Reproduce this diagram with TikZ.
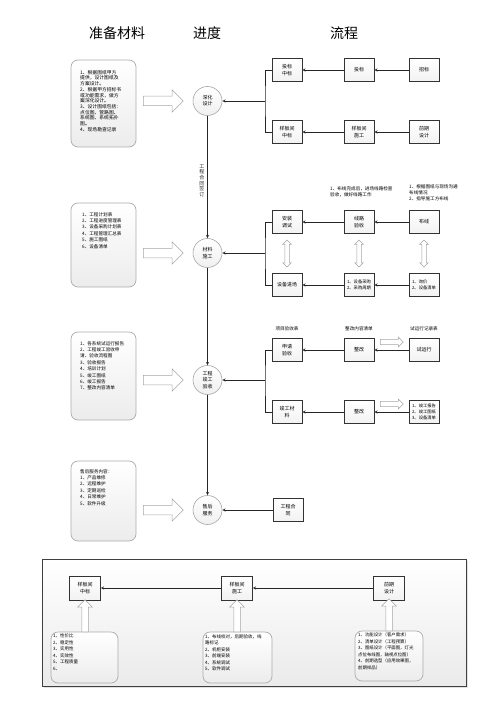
\documentclass[tikz,border=0pt]{standalone}
\usepackage{fontspec}
\setmainfont{Noto Sans CJK SC}
\usetikzlibrary{shapes.arrows,shadows}
\newcommand{\fsz}[2]{\fontsize{#1pt}{#2pt}\selectfont}

\begin{document}
\begin{tikzpicture}[x=1pt, y=-1pt,
    arr/.style={-stealth, black!85, line width=0.5pt},
    ln/.style={black!85, line width=0.5pt},
    head/.style={inner sep=0pt, font=\fsz{14}{16}},
    stage/.style={circle, draw=gray!70, line width=0.6pt, top color=white, bottom color=gray!12,
      minimum size=29pt, inner sep=0pt, align=center, font=\fsz{5}{6.2}},
    task/.style={rectangle, draw=black!80, line width=0.6pt, top color=white, bottom color=gray!10,
      minimum width=30pt, minimum height=23pt, inner sep=1pt, align=center, font=\fsz{5}{6.4},
      drop shadow={shadow xshift=0.7pt, shadow yshift=-0.7pt, fill=gray!45}},
    tasklist/.style={task, align=left, font=\fsz{4.3}{6}},
    docbox/.style={rectangle, rounded corners=7pt, draw=gray!65, line width=0.7pt,
      top color=white, bottom color=gray!15},
    doctext/.style={anchor=north west, align=left, inner sep=0pt, font=\fsz{4.6}{6.4}},
    note/.style={align=left, inner sep=0pt, font=\fsz{4.6}{6.4}},
    vlab/.style={align=center, inner sep=0pt, font=\fsz{5}{5.6}},
    hollow/.style={single arrow, draw=gray!70, fill=white, line width=0.5pt, anchor=tail,
      inner sep=4.5pt, single arrow head extend=6.5pt, minimum height=40pt},
    smallhollow/.style={hollow, inner sep=2.3pt, single arrow head extend=2.3pt, minimum height=23pt},
    uphollow/.style={hollow, inner sep=3pt, single arrow head extend=4pt, minimum height=32pt,
      shape border rotate=90},
    updown/.style={double arrow, draw=gray!70, fill=white, line width=0.5pt, inner sep=2pt,
      double arrow head extend=2pt, minimum height=27pt, shape border rotate=90}]
  \useasboundingbox (0,0) rectangle (503,711);

  % headings
  \node[head] (hd1) at (117,33) {准备材料};
  \node[head] (hd2) at (207,33) {进度};
  \node[head] (hd3) at (344,33) {流程};

  % left column
  \node[docbox, minimum width=65pt, minimum height=87pt] (m1) at (103.5,103.5) {};
  \node[doctext, font=\fsz{4.8}{5.7}] (t1) at (80,70) {1、根据图纸甲方\\提供，设计图纸及\\方案设计。\\2、根据甲方招标书\\或功能需求，做方\\案深化设计。\\3、设计图纸包括：\\点位图、管路图、\\系统图、系统拓扑\\图。\\4、现场勘查记录};
  \node[docbox, minimum width=65pt, minimum height=84pt] (m2) at (103.5,245) {};
  \node[doctext] (t2) at (82,212) {1、工程计划表\\2、工程进度管理表\\3、设备采购计划表\\4、工程管理汇总表\\5、施工图纸\\6、设备清单};
  \node[docbox, minimum width=65pt, minimum height=88pt] (m3) at (103.5,376) {};
  \node[doctext] (t3) at (80,341) {1、各系统试运行报告\\2、工程竣工验收申\\请、验收流程图\\3、验收报告\\4、培训计划\\5、竣工图纸\\6、竣工报告\\7、整改内容清单};
  \node[docbox, minimum width=65pt, minimum height=80pt] (m4) at (103.5,501) {};
  \node[doctext] (t4) at (80,469) {售后服务内容：\\1、产品维修\\2、远程维护\\3、定期巡检\\4、日常维护\\5、软件升级};

  \node[hollow] (h1) at (143,101) {};
  \node[hollow] (h2) at (143,253) {};
  \node[hollow] (h3) at (143,380) {};
  \node[hollow] (h4) at (143,510) {};

  % stages
  \node[stage] (p1) at (207.5,101) {深化\\设计};
  \node[stage] (p2) at (207.5,253) {材料\\施工};
  \node[stage] (p3) at (207.5,380) {工程\\竣工\\验收};
  \node[stage] (p4) at (207.5,510) {售后\\服务};
  \draw[arr] (p1) to node[vlab, pos=0.53, left=3pt] (v1) {工\\程\\合\\同\\签\\订} (p2);
  \draw[arr] (p2) -- (p3);
  \draw[arr] (p3) -- (p4);

  % design
  \node[task] (a1) at (287,70) {投标\\中标};
  \node[task] (b1) at (359,70) {投标};
  \node[task] (c1) at (424,70) {招标};
  \node[task] (a2) at (287,132) {样板间\\中标};
  \node[task] (b2) at (359,132) {样板间\\施工};
  \node[task] (c2) at (424,132) {前期\\设计};
  \coordinate (j1) at (265,101);
  \draw[arr] (c1) -- (b1);
  \draw[arr] (b1) -- (a1);
  \draw[arr] (c2) -- (b2);
  \draw[arr] (b2) -- (a2);
  \draw[ln] (a1.west) -| (j1) |- (a2.west);
  \draw[arr] (j1) -- (p1);

  % construction
  \node[note, anchor=north west] (n1) at (330,186) {1、布线完成后，进场线路检查\\验收，做好线路工作};
  \node[note, anchor=north west] (n2) at (409,184) {1、根据图纸与现场沟通\\布线情况\\2、指导施工方布线};
  \node[task] (a3) at (287,222) {安装\\调试};
  \node[task] (b3) at (359,222) {线路\\验收};
  \node[task] (c3) at (424,222) {布线};
  \node[task] (a4) at (287,285) {设备进场};
  \node[tasklist] (b4) at (359,285) {1、设备采购\\2、采购周期};
  \node[tasklist] (c4) at (424,285) {1、询价\\2、设备清单};
  \node[updown] (d1) at (287,253.5) {};
  \node[updown] (d2) at (359,253.5) {};
  \node[updown] (d3) at (424,253.5) {};
  \coordinate (j2) at (265,253);
  \draw[arr] (c3) -- (b3);
  \draw[arr] (b3) -- (a3);
  \draw[arr] (c4) -- (b4);
  \draw[arr] (b4) -- (a4);
  \draw[ln] (a3.west) -| (j2) |- (a4.west);
  \draw[arr] (j2) -- (p2);

  % acceptance
  \node[note] (l1) at (287,329) {项目验收表};
  \node[note] (l2) at (359,329) {整改内容清单};
  \node[note] (l3) at (424,329) {试运行记录表};
  \node[task] (a5) at (287,350) {申请\\验收};
  \node[task] (b5) at (359,350) {整改};
  \node[task] (c5) at (424,350) {试运行};
  \node[task] (a6) at (287,412) {竣工材\\料};
  \node[task] (b6) at (359,412) {整改};
  \node[tasklist] (c6) at (424,412) {1、竣工报告\\2、竣工图纸\\3、设备清单};
  \node[smallhollow] (s1) at (380,342) {};
  \node[smallhollow] (s2) at (380,404) {};
  \coordinate (j3) at (265,380);
  \draw[arr] (c5) -- (b5);
  \draw[arr] (b5) -- (a5);
  \draw[arr] (c6) -- (b6);
  \draw[arr] (b6) -- (a6);
  \draw[ln] (a5.west) -| (j3) |- (a6.west);
  \draw[arr] (j3) -- (p3);

  % service
  \node[task] (e1) at (288,510) {工程合\\同};
  \draw[arr] (e1) -- (p4);

  % sample room frame
  \draw[draw=black!75, line width=0.8pt, top color=white, bottom color=gray!16,
    drop shadow={shadow xshift=1.5pt, shadow yshift=-1.5pt, fill=gray!45}] (42,559) rectangle (466,686);
  \node[task, minimum width=31pt, minimum height=24pt] (f1) at (85,588) {样板间\\中标};
  \node[task, minimum width=31pt, minimum height=24pt] (f2) at (237,588) {样板间\\施工};
  \node[task, minimum width=31pt, minimum height=24pt] (f3) at (389,588) {前期\\设计};
  \draw[arr] (f3) -- (f2);
  \draw[arr] (f2) -- (f1);
  \node[docbox, minimum width=67pt, minimum height=51pt] (g1) at (84.5,657.5) {};
  \node[docbox, minimum width=69pt, minimum height=51pt] (g2) at (237.5,657.5) {};
  \node[docbox, minimum width=68pt, minimum height=50pt] (g3) at (389,656) {};
  \node[doctext, font=\fsz{4.5}{6.5}] (k1) at (53,634) {1、性价比\\2、稳定性\\3、实用性\\4、实效性\\5、工程质量\\6、};
  \node[doctext, font=\fsz{4.5}{6.5}] (k2) at (205,634) {1、布线校对，后期验收，线\\路标记\\2、机柜安装\\3、前端安装\\4、系统调试\\5、软件调试};
  \node[doctext, font=\fsz{4.4}{6.5}] (k3) at (358,633) {1、功能设计（客户需求）\\2、清单设计（工程预算）\\3、图纸设计（平面图，灯光\\点位布线图，轴视点位图）\\4、前期选型（应用效果图，\\前期样品）};
  \node[uphollow] (u1) at (85,632) {};
  \node[uphollow] (u2) at (237,632) {};
  \node[uphollow] (u3) at (389,631) {};
\end{tikzpicture}
\end{document}
